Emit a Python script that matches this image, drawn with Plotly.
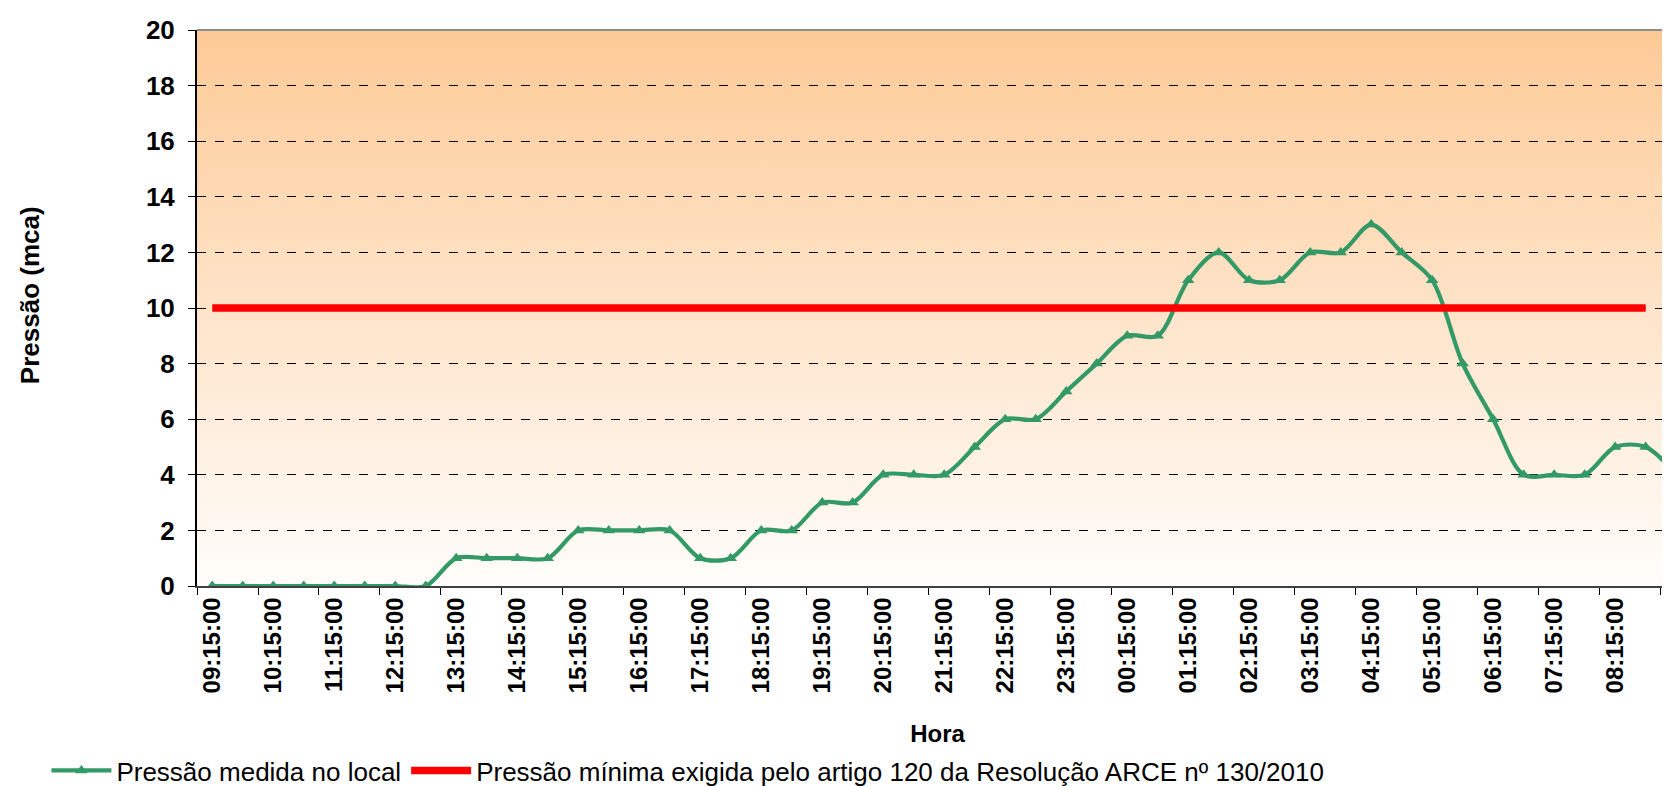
import base64
import plotly.graph_objects as go

# ---- data ----
horas = [
    "09:15:00", "09:45:00", "10:15:00", "10:45:00", "11:15:00", "11:45:00",
    "12:15:00", "12:45:00", "13:15:00", "13:45:00", "14:15:00", "14:45:00",
    "15:15:00", "15:45:00", "16:15:00", "16:45:00", "17:15:00", "17:45:00",
    "18:15:00", "18:45:00", "19:15:00", "19:45:00", "20:15:00", "20:45:00",
    "21:15:00", "21:45:00", "22:15:00", "22:45:00", "23:15:00", "23:45:00",
    "00:15:00", "00:45:00", "01:15:00", "01:45:00", "02:15:00", "02:45:00",
    "03:15:00", "03:45:00", "04:15:00", "04:45:00", "05:15:00", "05:45:00",
    "06:15:00", "06:45:00", "07:15:00", "07:45:00", "08:15:00", "08:45:00",
    "09:15:00 ",
]
pressao_medida = [
    0, 0, 0, 0, 0, 0, 0, 0, 1, 1, 1, 1, 2, 2, 2, 2, 1, 1, 2, 2, 3, 3, 4, 4,
    4, 5, 6, 6, 7, 8, 9, 9, 11, 12, 11, 11, 12, 12, 13, 12, 11, 8, 6, 4, 4,
    4, 5, 5, 4,
]
pressao_minima = [10] * 48 + [None]

nome_medida = "Pressão medida no local"
nome_minima = "Pressão mínima exigida pelo artigo 120 da Resolução ARCE nº 130/2010"
titulo_x = "Hora"
titulo_y = "Pressão (mca)"

FONT = "Liberation Sans, Arial, sans-serif"
GREEN = "#339966"
RED = "#FF0000"

fig = go.Figure()
fig.add_trace(go.Scatter(
    x=horas, y=pressao_medida, name=nome_medida, mode="lines+markers",
    line=dict(color=GREEN, width=4.2, shape="spline", smoothing=0.9),
    marker=dict(symbol="triangle-up", size=11, color=GREEN),
))
fig.add_trace(go.Scatter(
    x=horas, y=pressao_minima, name=nome_minima, mode="lines",
    line=dict(color=RED, width=7.5),
))

svg = ('<svg xmlns="http://www.w3.org/2000/svg" width="10" height="100" '
       'preserveAspectRatio="none"><defs><linearGradient id="g" x1="0" y1="0" '
       'x2="0" y2="1"><stop offset="0" stop-color="#FDCA96"/>'
       '<stop offset="1" stop-color="#FFFDFB"/></linearGradient></defs>'
       '<rect width="10" height="100" fill="url(#g)"/></svg>')
bg_src = "data:image/svg+xml;base64," + base64.b64encode(svg.encode()).decode()

fig.update_layout(
    width=1670, height=786,
    margin=dict(l=189, r=0, t=22, b=208, autoexpand=False),
    paper_bgcolor="white",
    plot_bgcolor="rgba(0,0,0,0)",
    font=dict(family=FONT, color="black"),
    showlegend=True,
    legend=dict(
        orientation="h", xref="container", yref="container",
        x=0.023, y=0.0, xanchor="left", yanchor="bottom",
        font=dict(size=26, family=FONT, color="black"),
        bgcolor="rgba(0,0,0,0)", itemwidth=60, tracegroupgap=0,
    ),
    images=[dict(
        source=bg_src, xref="paper", yref="paper", x=0, y=1,
        sizex=1, sizey=1, sizing="stretch", xanchor="left", yanchor="top",
        layer="below",
    )],
    shapes=[dict(
        type="line", xref="paper", yref="paper", x0=0, x1=1, y0=1, y1=1,
        line=dict(color="#8c8c8c", width=2),
    )],
    annotations=[dict(
        text="<b>" + titulo_y + "</b>", xref="paper", yref="paper",
        x=-0.1128, y=0.523, xanchor="center", yanchor="middle",
        textangle=-90, showarrow=False,
        font=dict(size=26, family=FONT, color="black"),
    )],
)

fig.update_xaxes(
    type="category", range=[-0.5, 48.06], automargin=False,
    tickmode="linear", tick0=0, dtick=2, tickson="boundaries",
    ticks="outside", ticklen=7, tickcolor="black", tickwidth=1,
    tickangle=-90, tickfont=dict(size=24, family=FONT, color="black", weight="bold"),
    showgrid=False, showline=True, linecolor="#404040", linewidth=1.5,
    title=dict(text="<b>" + titulo_x + "</b>", font=dict(size=24, family=FONT, color="black"), standoff=34),
    fixedrange=True,
)
fig.update_yaxes(
    range=[0, 20], tickmode="linear", tick0=0, dtick=2, automargin=False,
    ticks="outside", ticklen=7, tickcolor="black", tickwidth=1,
    tickfont=dict(size=26, family=FONT, color="black", weight="bold"),
    ticklabelstandoff=8,
    showgrid=True, gridcolor="black", gridwidth=1, griddash="dash",
    zeroline=False, showline=True, linecolor="black", linewidth=2,
    fixedrange=True,
)

fig.write_html("out.html")
